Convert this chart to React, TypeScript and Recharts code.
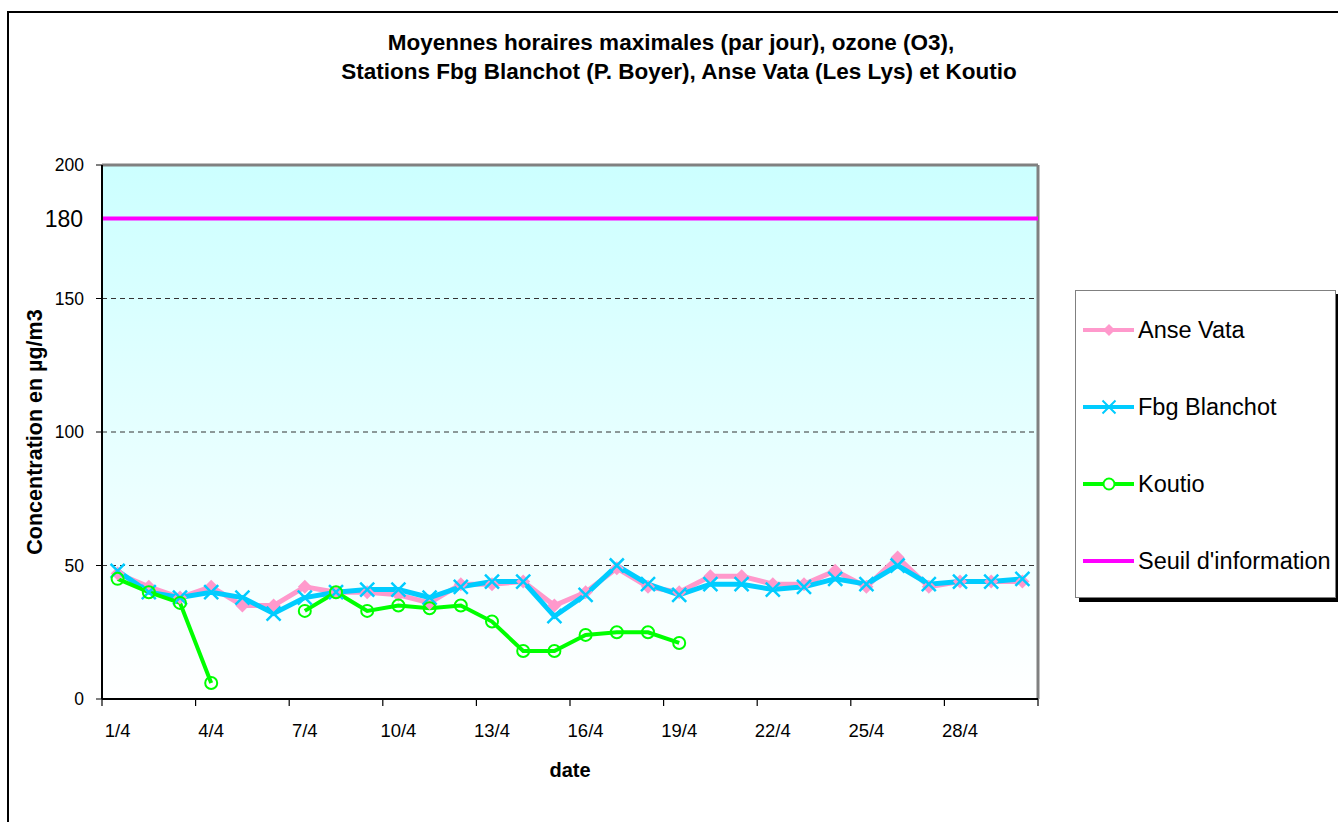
import React from 'react';
import { ComposedChart, Line, XAxis, YAxis, CartesianGrid, ReferenceLine } from 'recharts';

const days = [1, 2, 3, 4, 5, 6, 7, 8, 9, 10, 11, 12, 13, 14, 15, 16, 17, 18, 19, 20, 21, 22, 23, 24, 25, 26, 27, 28, 29, 30];
const anseVata = [47, 42, 38, 42, 35, 35, 42, 40, 40, 39, 36, 43, 43, 44, 35, 40, 49, 42, 40, 46, 46, 43, 43, 48, 42, 53, 42, 44, 44, 44];
const fbgBlanchot = [48, 40, 38, 40, 38, 32, 38, 40, 41, 41, 38, 42, 44, 44, 31, 39, 50, 43, 39, 43, 43, 41, 42, 45, 43, 50, 43, 44, 44, 45];
const koutio: (number | null)[] = [45, 40, 36, 6, null, null, 33, 40, 33, 35, 34, 35, 29, 18, 18, 24, 25, 25, 21, null, null, null, null, null, null, null, null, null, null, null];
const seuil = 180;

const boundaryTicks = [0.5, 3.5, 6.5, 9.5, 12.5, 15.5, 18.5, 21.5, 24.5, 27.5, 30.5];
const labelTicks = [1, 4, 7, 10, 13, 16, 19, 22, 25, 28];
const yTicks = [0, 50, 100, 150, 200];
const gridValues = [50, 100, 150];

const PINK = '#ff99cc';
const BLUE = '#00ccff';
const GREEN = '#00ff00';
const MAGENTA = '#ff00ff';
const FONT = '"Liberation Sans", Arial, sans-serif';

const data = days.map((d, i) => ({
  day: d,
  anse: anseVata[i],
  fbg: fbgBlanchot[i],
  koutio: koutio[i],
}));

const DiamondDot = (props: any) => {
  const { cx, cy } = props;
  if (cx == null || cy == null) return <g key={props.key} />;
  const s = 7;
  return <path key={props.key} d={`M${cx},${cy - s}L${cx + s},${cy}L${cx},${cy + s}L${cx - s},${cy}Z`} fill={PINK} />;
};

const CrossDot = (props: any) => {
  const { cx, cy } = props;
  if (cx == null || cy == null) return <g key={props.key} />;
  const s = 7;
  return (
    <path key={props.key} d={`M${cx - s},${cy - s}L${cx + s},${cy + s}M${cx + s},${cy - s}L${cx - s},${cy + s}`} stroke={BLUE} strokeWidth={2.5} fill="none" />
  );
};

const EmptyTick = () => <g />;

const XTick = (props: any) => {
  const { x, y, payload } = props;
  return (
    <text x={x} y={y + 31} textAnchor="middle" fontFamily={FONT} fontSize={18.5} fill="#000">
      {`${payload.value}/4`}
    </text>
  );
};

const YTick = (props: any) => {
  const { x, y, payload } = props;
  return (
    <text x={x - 2} y={y + 6} textAnchor="end" fontFamily={FONT} fontSize={17.5} fill="#000">
      {payload.value}
    </text>
  );
};

const legendItems = [
  { name: 'Anse Vata', color: PINK, marker: 'diamond' },
  { name: 'Fbg Blanchot', color: BLUE, marker: 'cross' },
  { name: 'Koutio', color: GREEN, marker: 'circle' },
  { name: "Seuil d'information", color: MAGENTA, marker: 'none' },
];

function LegendBox() {
  return (
    <div
      style={{
        position: 'absolute',
        left: 1075,
        top: 290,
        width: 259,
        height: 306,
        border: '1px solid #808080',
        background: '#fff',
        boxShadow: '4px 4px 0 #000',
        fontFamily: FONT,
        fontSize: 23.5,
        color: '#000',
      }}
    >
      {legendItems.map((it, i) => (
        <div key={it.name} style={{ position: 'absolute', left: 6, top: 24 + i * 77, height: 30, display: 'flex', alignItems: 'center' }}>
          <svg width={54} height={30} style={{ display: 'block' }}>
            <line x1={1} y1={15} x2={52} y2={15} stroke={it.color} strokeWidth={4} />
            {it.marker === 'diamond' && <path d="M27,9L33,15L27,21L21,15Z" fill={it.color} />}
            {it.marker === 'cross' && <path d="M20.5,8.5L33.5,21.5M33.5,8.5L20.5,21.5" stroke={it.color} strokeWidth={2} />}
            {it.marker === 'circle' && <circle cx={27} cy={15} r={5.5} stroke={it.color} strokeWidth={2} fill="#fff" />}
          </svg>
          <span style={{ marginLeft: 2, whiteSpace: 'nowrap' }}>{it.name}</span>
        </div>
      ))}
    </div>
  );
}

export default function App() {
  return (
    <div style={{ position: 'absolute', left: 0, top: 0, width: 1338, height: 822, overflow: 'hidden', background: '#fff' }}>
      <div style={{ position: 'absolute', left: 7, top: 11, width: 1400, height: 900, border: '2px solid #000' }} />
      <ComposedChart
        width={1338}
        height={822}
        data={data}
        margin={{ top: 165, right: 300, left: 42, bottom: 43 }}
        style={{ position: 'absolute', left: 0, top: 0 }}
      >
        <defs>
          <linearGradient id="bgGrad" x1="0" y1="0" x2="0" y2="1">
            <stop offset="0%" stopColor="#ccffff" />
            <stop offset="100%" stopColor="#ffffff" />
          </linearGradient>
        </defs>
        <CartesianGrid xAxisId="grid" horizontal={false} vertical={false} fill="url(#bgGrad)" fillOpacity={1} />
        <XAxis
          xAxisId="grid"
          dataKey="day"
          type="number"
          domain={[0.5, 30.5]}
          ticks={boundaryTicks}
          tick={EmptyTick}
          tickSize={7}
          height={1}
          axisLine={{ stroke: '#000', strokeWidth: 2 }}
          tickLine={{ stroke: '#000', strokeWidth: 1.2 }}
        />
        <XAxis
          xAxisId="lab"
          dataKey="day"
          type="number"
          domain={[0.5, 30.5]}
          ticks={labelTicks}
          axisLine={false}
          tickLine={false}
          tickSize={6}
          tickMargin={0}
          height={79}
          tick={XTick}
        />
        <YAxis
          domain={[0, 200]}
          ticks={yTicks}
          width={60}
          tickSize={6}
          tickMargin={10}
          axisLine={{ stroke: '#000', strokeWidth: 2 }}
          tickLine={{ stroke: '#000' }}
          tick={YTick}
        />
        {gridValues.map((g) => (
          <ReferenceLine key={g} xAxisId="grid" y={g} stroke="#333" strokeDasharray="5 4" strokeWidth={1} />
        ))}
        <ReferenceLine xAxisId="grid" y={200} stroke="#808080" strokeWidth={3} />
        <ReferenceLine xAxisId="grid" x={30.5} stroke="#808080" strokeWidth={3} />
        <ReferenceLine
          xAxisId="grid"
          y={seuil}
          stroke={MAGENTA}
          strokeWidth={4}
          label={{ value: '180', position: 'left', offset: 19, fill: '#000', fontSize: 23, fontFamily: FONT }}
        />
        <Line
          xAxisId="grid"
          dataKey="anse"
          name="Anse Vata"
          stroke={PINK}
          strokeWidth={5}
          dot={DiamondDot}
          activeDot={false}
          isAnimationActive={false}
        />
        <Line
          xAxisId="grid"
          dataKey="fbg"
          name="Fbg Blanchot"
          stroke={BLUE}
          strokeWidth={5}
          dot={CrossDot}
          activeDot={false}
          isAnimationActive={false}
        />
        <Line
          xAxisId="grid"
          dataKey="koutio"
          name="Koutio"
          stroke={GREEN}
          strokeWidth={4}
          dot={{ r: 6, stroke: GREEN, strokeWidth: 2, fill: 'none' }}
          activeDot={false}
          isAnimationActive={false}
        />
      </ComposedChart>
      <svg width={1338} height={822} style={{ position: 'absolute', left: 0, top: 0, pointerEvents: 'none' }}>
        <text x={671} y={50} textAnchor="middle" fontFamily={FONT} fontWeight="bold" fontSize={22.5} fill="#000">
          Moyennes horaires maximales (par jour), ozone (O3),
        </text>
        <text x={679} y={79} textAnchor="middle" fontFamily={FONT} fontWeight="bold" fontSize={22.5} fill="#000">
          Stations Fbg Blanchot (P. Boyer), Anse Vata (Les Lys) et Koutio
        </text>
        <text
          x={0}
          y={0}
          transform="translate(42,432) rotate(-90)"
          textAnchor="middle"
          fontFamily={FONT}
          fontWeight="bold"
          fontSize={21.5}
          fill="#000"
        >
          Concentration en µg/m3
        </text>
        <text x={570} y={777} textAnchor="middle" fontFamily={FONT} fontWeight="bold" fontSize={20} fill="#000">
          date
        </text>
      </svg>
      <LegendBox />
    </div>
  );
}
